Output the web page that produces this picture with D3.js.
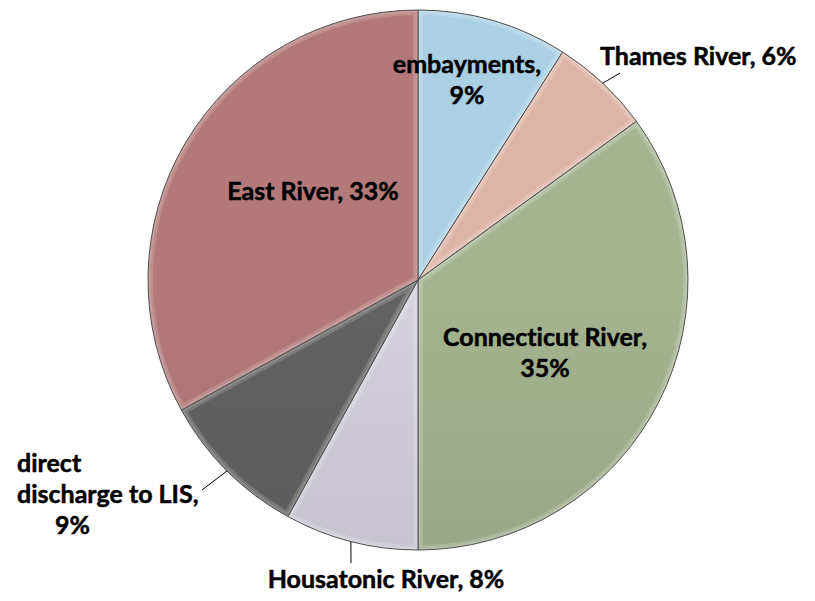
<!DOCTYPE html>
<html>
<head>
<meta charset="utf-8">
<script src="https://cdn.jsdelivr.net/npm/d3@7"></script>
<style>
  body { margin: 0; background: #fff; }
  svg { display: block; }
  text { font-variant-ligatures: none; }
</style>
</head>
<body>
<script>
const width = 815;
const height = 601;

// slices, clockwise from 12 o'clock
const sources = ["embayments", "Thames River", "Connecticut River", "Housatonic River", "direct discharge to LIS", "East River"];
const shares = [9, 6, 35, 8, 9, 33];
const colors = ["#a6cade", "#d8afa1", "#a0ae8c", "#cecbd7", "#5f5f5f", "#ae7675"];

// how many words go on each label line
const wordGroups = [[1, 1], [3], [2, 1], [3], [1, 3, 1], [3]];

// label layout (x per line, first baseline, anchor, leader line end)
const labelLayout = [
    {x: [467, 467], y: 73, anchor: "middle"},
    {x: [600], y: 65, anchor: "start", leader: [620, 73]},
    {x: [545, 545], y: 346, anchor: "middle"},
    {x: [386], y: 588, anchor: "middle", leader: [351, 563]},
    {x: [17, 17, 55], y: 472, anchor: "start", leader: [202, 490]},
    {x: [313], y: 200, anchor: "middle"}
];

const cx = 418, cy = 280, r = 270;
const fontSize = 25;
const lineStep = 31;

const svg = d3.select('body').append('svg')
    .attr("width", width)
    .attr("height", height)
    .attr("viewBox", `0 0 ${width} ${height}`);

const defs = svg.append("defs");

const pie = d3.pie()
    .value(d => d)
    .sort(null);

const arcs = pie(shares);

const arc = d3.arc()
    .innerRadius(0)
    .outerRadius(r);

// vertical shading, lighter at the top of the pie
colors.forEach((c, i) => {
    const g = defs.append("linearGradient")
        .attr("id", "grad" + i)
        .attr("gradientUnits", "userSpaceOnUse")
        .attr("x1", 0).attr("y1", cy - r)
        .attr("x2", 0).attr("y2", cy + r);
    g.append("stop").attr("offset", 0).attr("stop-color", d3.color(c).brighter(0.08));
    g.append("stop").attr("offset", 1).attr("stop-color", d3.color(c).darker(0.32));

    defs.append("clipPath")
        .attr("id", "clip" + i)
        .append("path")
        .attr("d", arc(arcs[i]));
});

const g = svg.append("g")
    .attr("transform", `translate(${cx},${cy})`);

const slices = g.selectAll("g.slice")
    .data(arcs)
    .enter()
    .append("g")
    .attr("class", "slice");

slices.append("path")
    .attr("d", arc)
    .style("fill", (d, i) => `url(#grad${i})`);

// soft bevel highlight along the slice edges
slices.append("path")
    .attr("d", arc)
    .attr("clip-path", (d, i) => `url(#clip${i})`)
    .style("fill", "none")
    .style("stroke", "#fff")
    .style("stroke-opacity", 0.16)
    .style("stroke-width", 10);

slices.append("path")
    .attr("d", arc)
    .attr("clip-path", (d, i) => `url(#clip${i})`)
    .style("fill", "none")
    .style("stroke", "#fff")
    .style("stroke-opacity", 0.14)
    .style("stroke-width", 5);

slices.append("path")
    .attr("d", arc)
    .style("fill", "none")
    .style("stroke", "#505050")
    .style("stroke-width", 1);

// leader lines
const outer = d3.arc().innerRadius(r).outerRadius(r);
arcs.forEach((d, i) => {
    const lay = labelLayout[i];
    if (!lay.leader) return;
    const p = outer.centroid(d);
    svg.append("line")
        .attr("x1", cx + p[0]).attr("y1", cy + p[1])
        .attr("x2", lay.leader[0]).attr("y2", lay.leader[1])
        .style("stroke", "#000")
        .style("stroke-width", 1);
});

// labels
arcs.forEach((d, i) => {
    const words = `${sources[i]}, ${shares[i]}%`.split(" ");
    const lines = [];
    let k = 0;
    wordGroups[i].forEach(n => {
        lines.push(words.slice(k, k + n).join(" "));
        k += n;
    });
    const lay = labelLayout[i];
    const t = svg.append("text")
        .attr("text-anchor", lay.anchor)
        .style("font-family", "Lato, 'Open Sans', sans-serif")
        .style("font-weight", "bold")
        .style("font-size", fontSize + "px")
        .style("fill", "#000")
        .style("stroke", "#000")
        .style("stroke-width", 0.5);
    lines.forEach((line, j) => {
        t.append("tspan")
            .attr("x", lay.x[j])
            .attr("y", lay.y + j * lineStep)
            .text(line);
    });
});
</script>
</body>
</html>
